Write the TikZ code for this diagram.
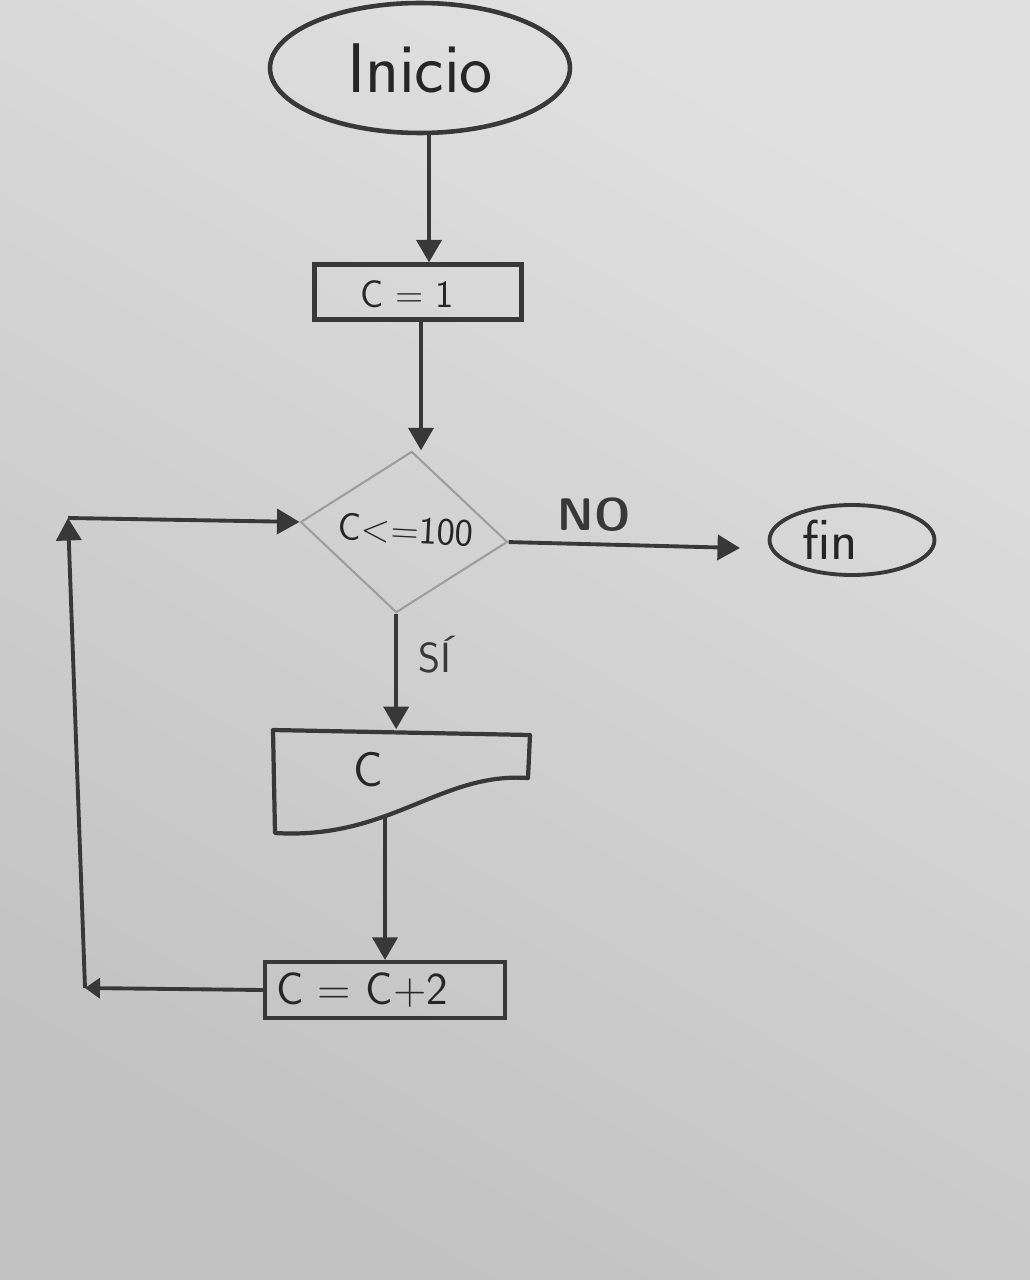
\documentclass[tikz,border=0pt]{standalone}
\usepackage{fontspec}
\usetikzlibrary{shapes.geometric,arrows.meta}
\definecolor{paper}{gray}{0.88}
\definecolor{paperdark}{gray}{0.76}
\definecolor{ink}{gray}{0.22}
\definecolor{softink}{gray}{0.62}
\tikzset{
  box/.style={draw=ink,line width=2.4pt,rectangle,inner sep=0pt,font=\sffamily\fontsize{22}{22}\selectfont,text=black!85},
  term/.style={draw=ink,line width=2.6pt,ellipse,inner sep=0pt,text=black!85},
  flow/.style={draw=ink,line width=2.2pt,-{Triangle[length=0.45cm,width=0.5cm]}},
  lab/.style={font=\sffamily\fontsize{24}{24}\selectfont,text=ink},
  txt/.style={inner sep=0pt,text=black!85}
}
\begin{document}
\begin{tikzpicture}[x=0.02cm,y=-0.02cm]
\shade[top color=paper,bottom color=paperdark,shading angle=-30] (0,0) rectangle (1030,1280);
\useasboundingbox (0,0) rectangle (1030,1280);

\node[term,minimum width=6cm,minimum height=2.6cm,font=\sffamily\fontsize{40}{40}\selectfont\addfontfeature{LetterSpace=8}] (inicio) at (420,68) {Inicio};
\node[box,minimum width=4.14cm,minimum height=1.1cm] (c1) at (418,292) {};
\node[txt,font=\sffamily\fontsize{22}{22}\selectfont] (c1text) at (407,294) {C = 1};
\node[draw=softink,line width=1.2pt,diamond,inner sep=0pt,minimum width=4.16cm,minimum height=3.24cm,rotate=-5.5] (dec) at (404,532) {};
\node[txt,rotate=-3,font=\sffamily\fontsize{22}{22}\selectfont] (dectext) at (406,530) {C{<}{=}100};
\node[term,line width=2.2pt,minimum width=3.3cm,minimum height=1.4cm] (fin) at (852,540) {};
\node[txt,font=\sffamily\fontsize{32}{32}\selectfont] (fintext) at (830,540) {fin};
\node[box,minimum width=4.8cm,minimum height=1.12cm] (cc2) at (385,990) {};
\node[txt,font=\sffamily\fontsize{26}{26}\selectfont] (cc2text) at (362,990) {C = C+2};

% document shape
\node[inner sep=0pt,minimum width=5.14cm,minimum height=2.1cm] (doc) at (401,782) {};
\draw[ink,line width=2.4pt,line join=round] (273,730) -- (530,735) -- (528,778)
  .. controls (440,772) and (390,840) .. (275,833) -- cycle;
\node[txt,font=\sffamily\fontsize{28}{28}\selectfont] (doctext) at (368,770) {C};

\coordinate (ax1) at (429,0);
\coordinate (ax2) at (421,0);
\coordinate (docout) at (385,818);
\coordinate (lb) at (85,988);
\coordinate (lt) at (68,518);
\coordinate (fintip) at (740,548);

\draw[flow] (inicio.south -| ax1) -- (c1.north -| ax1);
\draw[flow] (c1.south -| ax2) -- (dec.north -| ax2);
\draw[flow] (dec.east) -- (fintip);
\node[lab,font=\sffamily\bfseries\fontsize{26}{26}\selectfont] (nolab) at (594,515) {NO};
\draw[flow] (dec.south) -- (doc.north -| dec.south);
\node[lab] (silab) at (435,655) {SÍ};
\draw[flow] (docout) -- (cc2.north -| docout);
\draw[draw=ink,line width=2.2pt,-{Triangle[length=0.3cm,width=0.4cm]}] (cc2.west) -- (lb);
\draw[flow] (lb) -- (lt);
\draw[flow] (lt) -- (dec.west);
\end{tikzpicture}
\end{document}
